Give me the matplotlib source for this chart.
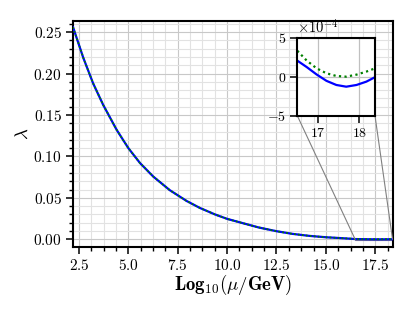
import matplotlib
matplotlib.use("Agg")
import matplotlib.pyplot as plt
from matplotlib.ticker import MultipleLocator
from mpl_toolkits.axes_grid1.inset_locator import mark_inset

plt.rcParams['font.family'] = 'serif'
plt.rcParams['font.serif'] = ['cmr10']
plt.rcParams['mathtext.fontset'] = 'cm'
plt.rcParams['axes.formatter.use_mathtext'] = True

# ---- data ----
x_head = [2.2, 2.72, 3.22, 3.73, 4.41, 5.0, 5.59, 6.26, 7.10, 7.95, 8.62,
          9.38, 10.0, 10.81, 11.6, 12.5, 13.3, 14.18, 15.0, 15.87]
lam_head = [0.256, 0.219, 0.188, 0.162, 0.132, 0.110, 0.092, 0.0757,
            0.0592, 0.0462, 0.0378, 0.0300, 0.0246, 0.0193, 0.0142,
            0.0097, 0.0065, 0.0040, 0.0024, 0.0012]

x_tail = [16.49, 16.72, 16.96, 17.2, 17.44, 17.68, 17.93, 18.17, 18.38]
lam_blue_tail = [2.08e-4, 1.25e-4, 0.30e-4, -0.52e-4, -1.05e-4, -1.27e-4,
                 -1.05e-4, -0.62e-4, -0.05e-4]
lam_green_tail = [3.35e-4, 2.08e-4, 1.09e-4, 0.45e-4, 0.11e-4, 0.02e-4,
                  0.28e-4, 0.67e-4, 1.09e-4]

x_all = x_head + x_tail
lam_blue = lam_head + lam_blue_tail
lam_green = lam_head + lam_green_tail

main_xticks = [2.5, 5.0, 7.5, 10.0, 12.5, 15.0, 17.5]
main_yticks = [0.00, 0.05, 0.10, 0.15, 0.20, 0.25]
inset_xticks = [17, 18]
inset_yticks = [-5e-4, 0, 5e-4]

# ---- figure ----
fig = plt.figure(figsize=(4.15, 3.11), dpi=100)
ax = fig.add_axes([0.176, 0.206, 0.771, 0.726])

ax.plot(x_all, lam_blue, color='#0000ff', lw=1.6, zorder=3)
ax.plot(x_all, lam_green, color='green', lw=1.3, dashes=(1, 1.2), zorder=4)

ax.set_xlim(2.2, 18.4)
ax.set_ylim(-0.0093, 0.2633)
ax.set_xticks(main_xticks)
ax.set_yticks(main_yticks)
ax.xaxis.set_minor_locator(MultipleLocator(0.625))
ax.yaxis.set_minor_locator(MultipleLocator(0.01))
ax.grid(which='major', color='#c8c8c8', lw=0.8)
ax.grid(which='minor', color='#e2e2e2', lw=0.8)
ax.set_axisbelow(True)
ax.tick_params(which='major', direction='out', length=5, width=1.1,
               labelsize=11, pad=3)
ax.tick_params(which='minor', direction='out', length=3, width=1.0)
for s in ax.spines.values():
    s.set_linewidth(1.5)

ax.set_xlabel(r'$\mathbf{Log}_{\mathbf{10}}(\mu/\mathbf{GeV})$', fontsize=13.5, labelpad=0)
ax.set_ylabel(r'$\lambda$', fontsize=13.5, labelpad=1)

# ---- inset ----
axins = fig.add_axes([0.7164, 0.628, 0.1872, 0.250])
axins.plot(x_tail, lam_blue_tail, color='#0000ff', lw=1.6)
axins.plot(x_tail, lam_green_tail, color='green', lw=1.6, dashes=(1, 1.5))
axins.set_xlim(16.49, 18.38)
axins.set_ylim(-5e-4, 5e-4)
axins.set_xticks(inset_xticks)
axins.set_yticks(inset_yticks)
axins.ticklabel_format(axis='y', style='sci', scilimits=(0, 0))
axins.grid(True, color='#c0c0c0', lw=0.9)
axins.set_axisbelow(True)
axins.tick_params(which='major', direction='out', length=5, width=1.1,
                  labelsize=10, pad=3)
axins.yaxis.get_offset_text().set_fontsize(10.5)
for s in axins.spines.values():
    s.set_linewidth(1.5)
axins.set_facecolor('white')

mark_inset(ax, axins, loc1=3, loc2=4, fc='none', ec='0.5', lw=0.8)

fig.savefig('out.png', dpi=100)
